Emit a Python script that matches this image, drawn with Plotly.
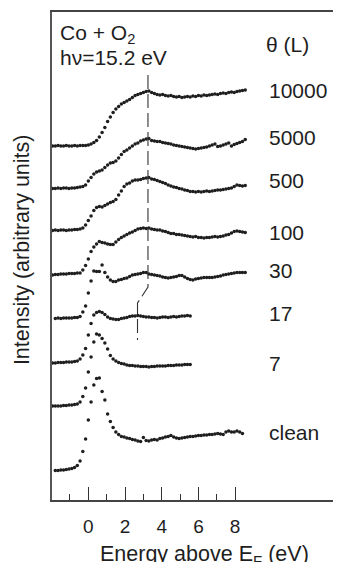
import plotly.graph_objects as go

# ---------------- data ----------------
ENERGY = [-1.95, -1.80, -1.65, -1.50, -1.35, -1.20, -1.05, -0.90, -0.75, -0.60,
          -0.45, -0.30, -0.15, 0.00, 0.15, 0.30, 0.45, 0.60, 0.75, 0.90,
          1.05, 1.20, 1.35, 1.50, 1.65, 1.80, 1.95, 2.10, 2.25, 2.40,
          2.55, 2.70, 2.85, 3.00, 3.15, 3.30, 3.45, 3.60, 3.75, 3.90,
          4.05, 4.20, 4.35, 4.50, 4.65, 4.80, 4.95, 5.10, 5.25, 5.40,
          5.55, 5.70, 5.85, 6.00, 6.15, 6.30, 6.45, 6.60, 6.75, 6.90,
          7.05, 7.20, 7.35, 7.50, 7.65, 7.80, 7.95, 8.10, 8.25, 8.40, 8.55]

int_10000 = [354, 354, 354.5, 354, 354, 354.5, 354, 354, 354.5, 354, 354.5, 354.5,
             354.5, 355, 356, 357.5, 359.5, 363, 367.5, 372.5, 378.5, 383, 387.5, 391,
             393.5, 396, 397.5, 399, 400.5, 402.5, 404.5, 405.5, 406.5, 407.5, 408.5, 409,
             407.5, 406.5, 405.5, 405, 405.5, 404.5, 404, 404.5, 403.5, 403, 403.5, 402.5,
             403, 403.5, 403, 404, 403.5, 404.5, 404, 405, 404.5, 405, 405.5, 406, 405.5,
             406.5, 407, 406.5, 407.5, 408, 407.5, 408.5, 409, 409.5, 410]
int_5000 = [311.5, 311.5, 312, 311.5, 312, 312, 311.5, 312, 312, 312.5, 313,
            313.5, 315, 319, 322.5, 326, 328, 329, 330, 332.5, 335, 337, 337.5, 339,
            342, 345.5, 348.5, 350, 352, 354, 356, 357, 359, 360, 361, 361.5, 359.5,
            359, 358.5, 358.5, 357.5, 357, 356.5, 356, 355, 354.5, 354, 353.5, 353,
            352.5, 352, 351.5, 351, 351.5, 352, 352.5, 353, 354, 355, 356, 353.5, 354,
            355, 356, 357, 354, 355.5, 356.5, 357.5, 358.5, 360.5]
int_500 = [269.5, 270, 269.5, 270, 270, 269.5, 270, 270, 270.5, 270.5, 271,
           272, 275, 279.5, 284, 289.5, 292.5, 293.5, 293, 294.5, 296, 297.5, 298.5,
           300.5, 305, 309, 313.5, 316, 317, 319, 320, 320, 320.5, 321.5, 322, 322.5,
           321, 320.5, 319.5, 318.5, 317.5, 316.5, 315, 314, 313, 312.5, 311.5, 311,
           310, 309.5, 308.5, 308.5, 308, 308.5, 308, 308.5, 309, 308.5, 309, 309.5,
           310, 310, 310.5, 311, 311.5, 312, 313.5, 315, 314.5, 314, 314.5]
int_100 = [225, 225.5, 225.5, 226, 226, 226, 226.5, 226.5, 226.5, 227, 227,
           230, 234.5, 241, 248.5, 253, 256, 258.5, 257.5, 257, 256, 255.5, 255.5,
           258, 260.5, 262.5, 264, 265.5, 267, 268, 269.5, 271, 271.5, 272, 271.5, 272,
           271, 270.5, 270, 270, 269, 268.5, 267.5, 266.5, 266.5, 265.5, 265.5, 265,
           264.5, 264, 263.5, 263, 263.5, 262.5, 262.5, 262, 262.5, 262.5, 263, 263.5,
           263, 263.5, 264, 265, 265.5, 267, 268.5, 269, 268.5, 268, 267.5]
int_30 = [181.5, 182, 181.5, 182, 182, 182, 182, 182.5, 182.5, 183.5,
          188, 194, 207, 219, 229, 228.5, 228.5, 235, 227.5, 223, 220, 218.5, 218.5,
          220, 220.5, 221.5, 222, 223.5, 225, 225.5, 226, 226.5, 227.5, 227.5, 226,
          225.5, 225, 224.5, 224, 223, 222.5, 222, 222.5, 223, 223.5, 224.5, 224.5,
          223, 221.5, 220.5, 220, 221, 221.5, 222, 222.5, 222.5, 222.5, 222.5, 223,
          223.5, 224, 225, 225.5, 226, 226.5, 227, 227.5, 227.5, 227.5, 227.5]
int_17 = [137, 137, 137.5, 137.5, 137.5, 138, 138, 138, 138.5, 139,
          141, 145, 151.5, 165, 176.5, 185, 187.5, 188.5, 187.5, 185.5, 183, 181.5,
          181, 180.5, 180.5, 181.5, 182, 182.5, 183.5, 184, 184, 184.5, 184, 183.5,
          183, 183, 182.5, 182.5, 182, 182.5, 183, 183, 182.5, 183, 183.5, 183, 183.5,
          184, 184, 184.5, 184]
int_7 = [94, 94, 94, 94, 94.5, 94.5, 95, 95, 95.5, 96,
         98, 103.5, 112, 128, 143, 158, 166, 165, 161.5, 157, 151, 144.5, 141, 139,
         137.5, 136.5, 136, 135, 134.5, 134.5, 134, 134, 133.5, 133.5, 133.5, 133,
         133.5, 133.5, 134, 134, 134, 134, 134.5, 134.5, 134.5, 135, 135, 135, 135.5,
         135.5, 135.5]
int_clean = [29.5, 29.5, 30, 30, 30.5, 31, 31.5, 32.5, 34.5, 39, 48.5, 61, 80, 98,
             115, 121.5, 122, 108.5, 100, 86, 78.5, 72.5, 68, 65.5, 63.5, 63, 62, 61.5,
             60.5, 60, 59, 58.5, 62.5, 59.5, 59, 60, 60.5, 60, 61.5, 62, 63, 63.5, 64.5,
             63, 62, 61.5, 62, 62.5, 63, 63.5, 63.5, 64, 64.5, 64.5, 65, 65, 65.5, 65.5,
             66, 66.5, 66, 65.5, 68, 69, 68, 68, 69, 68, 66.5]

exposures = ["10000", "5000", "500", "100", "30", "17", "7", "clean"]
spectra = [int_10000, int_5000, int_500, int_100, int_30, int_17, int_7, int_clean]
first_index = [0, 0, 0, 0, 1, 0, 0, 1]          # first energy point of each spectrum
label_levels = [410, 363, 320, 268, 230, 187, 137, 68]
label_energy = 9.72

peak_energy = [3.25, 3.25, 2.68, 2.68]
peak_level = [425, 213, 197, 160]

x_tick_major = [0, 2, 4, 6, 8]
x_tick_minor = [-1, 1, 3, 5, 7]

# ---------------- figure ----------------
FONT = "Liberation Sans, Arial, Helvetica, sans-serif"
INK = "#1e1e1e"

fig = go.Figure()
for name, vals, start in zip(exposures, spectra, first_index):
    fig.add_trace(go.Scatter(
        x=ENERGY[start:start + len(vals)], y=vals, mode="markers", name=name,
        marker=dict(size=3.5, color=INK, line=dict(width=0)),
        showlegend=False, hoverinfo="skip"))

fig.add_trace(go.Scatter(
    x=peak_energy, y=peak_level, mode="lines", showlegend=False, hoverinfo="skip",
    line=dict(color="#333", width=1.1, dash="14px,5px")))

for name, lvl in zip(exposures, label_levels):
    fig.add_annotation(x=label_energy, y=lvl, xref="x", yref="y", text=name,
                       showarrow=False, xanchor="left", yanchor="middle",
                       font=dict(family=FONT, size=21, color=INK))

fig.add_annotation(x=0.02, y=0.955, xref="paper", yref="paper", text="Co + O<sub>2</sub>",
                   showarrow=False, xanchor="left", yanchor="middle",
                   font=dict(family=FONT, size=21, color=INK))
fig.add_annotation(x=0.02, y=0.906, xref="paper", yref="paper", text="hν=15.2 eV",
                   showarrow=False, xanchor="left", yanchor="middle",
                   font=dict(family=FONT, size=21, color=INK))
fig.add_annotation(x=0.735, y=0.934, xref="paper", yref="paper", text="θ (L)",
                   showarrow=False, xanchor="left", yanchor="middle",
                   font=dict(family=FONT, size=21, color=INK))

fig.add_annotation(x=-0.104, y=0.514, xref="paper", yref="paper",
                   text="Intensity (arbitrary units)", textangle=-90,
                   showarrow=False, xanchor="center", yanchor="middle",
                   font=dict(family=FONT, size=21.5, color=INK))
fig.add_annotation(x=0.526, y=-0.113, xref="paper", yref="paper",
                   text="Energy above E<sub>F</sub> (eV)",
                   showarrow=False, xanchor="center", yanchor="middle",
                   font=dict(family=FONT, size=21.5, color=INK))

# the page body keeps its default 8 px margin, so the figure is sized to end at the window edge
fig.update_layout(
    width=333, height=554,
    margin=dict(l=44, r=0, t=4, b=62),
    paper_bgcolor="white", plot_bgcolor="white",
    xaxis=dict(range=[-1.98, 13.77], showgrid=False, zeroline=False,
               showline=True, linecolor="#444", linewidth=1.5, mirror=True,
               ticks="inside", ticklen=13, tickwidth=1.3, tickcolor="#333",
               tickvals=x_tick_major, ticktext=[str(v) for v in x_tick_major],
               ticklabelstandoff=8,
               tickfont=dict(family=FONT, size=19, color=INK),
               minor=dict(tickvals=x_tick_minor, ticks="inside", ticklen=6,
                          tickwidth=1.3, tickcolor="#333", showgrid=False)),
    yaxis=dict(range=[0, 488], showgrid=False, zeroline=False,
               showline=True, linecolor="#555", linewidth=1.5,
               showticklabels=False, ticks=""),
)

fig.write_html("out.html")
